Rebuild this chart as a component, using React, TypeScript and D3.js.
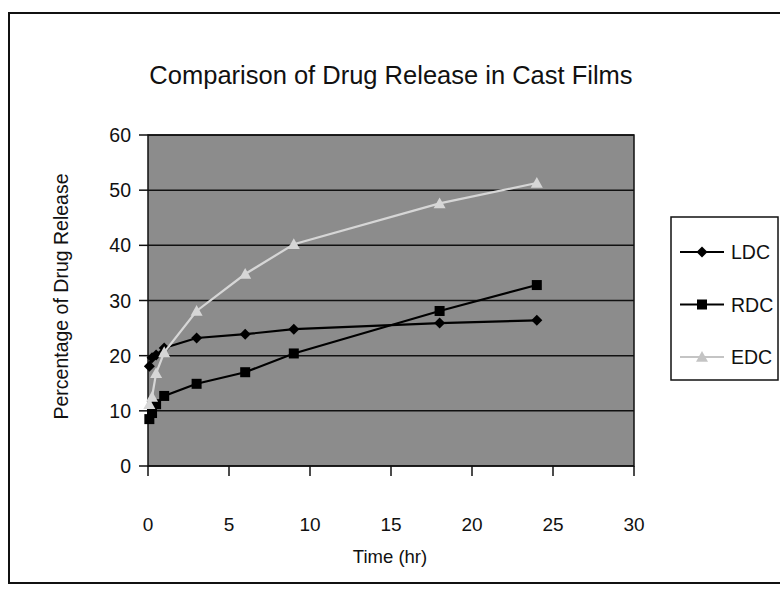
import React from "react";
import * as d3 from "d3";

const times = [0.083, 0.25, 0.5, 1, 3, 6, 9, 18, 24];
const ldc = [18.1, 19.6, 20.1, 21.4, 23.2, 23.9, 24.8, 25.9, 26.4];
const rdc = [8.5, 9.6, 11.2, 12.7, 14.9, 17.0, 20.4, 28.1, 32.8];
const edc = [11.2, 12.5, 16.8, 20.6, 28.1, 34.8, 40.2, 47.6, 51.3];
const seriesNames = ["LDC", "RDC", "EDC"];
const xTicks = [0, 5, 10, 15, 20, 25, 30];
const yTicks = [0, 10, 20, 30, 40, 50, 60];
const title = "Comparison of Drug Release in Cast Films";
const xLabel = "Time (hr)";
const yLabel = "Percentage of Drug Release";

const FONT = "'Liberation Sans', Arial, sans-serif";

export default function App() {
  const x = d3.scaleLinear().domain([0, 30]).range([148, 634]);
  const y = d3.scaleLinear().domain([0, 60]).range([466, 135]);
  const line = d3
    .line<[number, number]>()
    .x((d) => x(d[0]))
    .y((d) => y(d[1]));

  const series = [
    { name: seriesNames[0], values: ldc, color: "#000", marker: "diamond" },
    { name: seriesNames[1], values: rdc, color: "#000", marker: "square" },
    { name: seriesNames[2], values: edc, color: "#d6d6d6", marker: "triangle" },
  ];

  const marker = (type: string, cx: number, cy: number, color: string, key: string) => {
    if (type === "diamond") {
      const s = 5.5;
      return (
        <path key={key} d={`M${cx},${cy - s}L${cx + s},${cy}L${cx},${cy + s}L${cx - s},${cy}Z`} fill={color} />
      );
    }
    if (type === "square") {
      const s = 5;
      return <rect key={key} x={cx - s} y={cy - s} width={2 * s} height={2 * s} fill={color} />;
    }
    const s = 6;
    return (
      <path key={key} d={`M${cx},${cy - s}L${cx + s},${cy + s * 0.8}L${cx - s},${cy + s * 0.8}Z`} fill={color} />
    );
  };

  const [x0, x1] = x.range();
  const [yb, yt] = y.range();

  return (
    <svg
      width={780}
      height={589}
      style={{ position: "absolute", left: 0, top: 0, background: "#fff" }}
    >
      <rect x={0} y={0} width={780} height={589} fill="#fff" />
      {/* outer chart frame */}
      <rect x={9} y={13} width={800} height={570} fill="none" stroke="#111" strokeWidth={2} />

      <text x={391} y={84} textAnchor="middle" fontFamily={FONT} fontSize={25.5} fill="#111">
        {title}
      </text>

      {/* plot area */}
      <rect x={x0} y={yt} width={x1 - x0} height={yb - yt} fill="#8c8c8c" />
      {yTicks.map((t) => (
        <line key={"g" + t} x1={x0} x2={x1} y1={y(t)} y2={y(t)} stroke="#111" strokeWidth={1.5} />
      ))}
      <rect x={x0} y={yt} width={x1 - x0} height={yb - yt} fill="none" stroke="#111" strokeWidth={1.5} />

      {/* y axis ticks */}
      {yTicks.map((t) => (
        <g key={"yt" + t}>
          <line x1={x0 - 9} x2={x0} y1={y(t)} y2={y(t)} stroke="#111" strokeWidth={1.5} />
          <text x={x0 - 17} y={y(t) + 7} textAnchor="end" fontFamily={FONT} fontSize={19.5} fill="#111">
            {t}
          </text>
        </g>
      ))}
      {/* x axis ticks */}
      {xTicks.map((t) => (
        <g key={"xt" + t}>
          <line x1={x(t)} x2={x(t)} y1={yb} y2={yb + 10} stroke="#111" strokeWidth={1.5} />
          <text x={x(t)} y={yb + 65} textAnchor="middle" fontFamily={FONT} fontSize={19} fill="#111">
            {t}
          </text>
        </g>
      ))}

      <text x={390} y={563} textAnchor="middle" fontFamily={FONT} fontSize={18.5} fill="#111">
        {xLabel}
      </text>
      <text
        transform={`translate(68,${(yt + yb) / 2 - 4}) rotate(-90)`}
        textAnchor="middle"
        fontFamily={FONT}
        fontSize={19.5}
        fill="#111"
      >
        {yLabel}
      </text>

      {/* series */}
      {series.map((s) => {
        const pts = times.map((t, i) => [t, s.values[i]] as [number, number]);
        return (
          <g key={s.name}>
            <path d={line(pts) || ""} fill="none" stroke={s.color} strokeWidth={2.2} />
            {pts.map((p, i) => marker(s.marker, x(p[0]), y(p[1]), s.color, s.name + i))}
          </g>
        );
      })}

      {/* legend */}
      <rect x={671} y={217} width={107} height={163} fill="#fff" stroke="#111" strokeWidth={1.5} />
      {series.map((s, i) => {
        const ly = 252 + i * 52.5;
        const c = i === 2 ? "#c4c4c4" : s.color;
        return (
          <g key={"lg" + s.name}>
            <line x1={680} x2={724} y1={ly} y2={ly} stroke={c} strokeWidth={2} />
            {marker(s.marker, 702, ly, c, "lm" + i)}
            <text x={731} y={ly + 7} fontFamily={FONT} fontSize={19.5} fill="#111">
              {s.name}
            </text>
          </g>
        );
      })}
    </svg>
  );
}
